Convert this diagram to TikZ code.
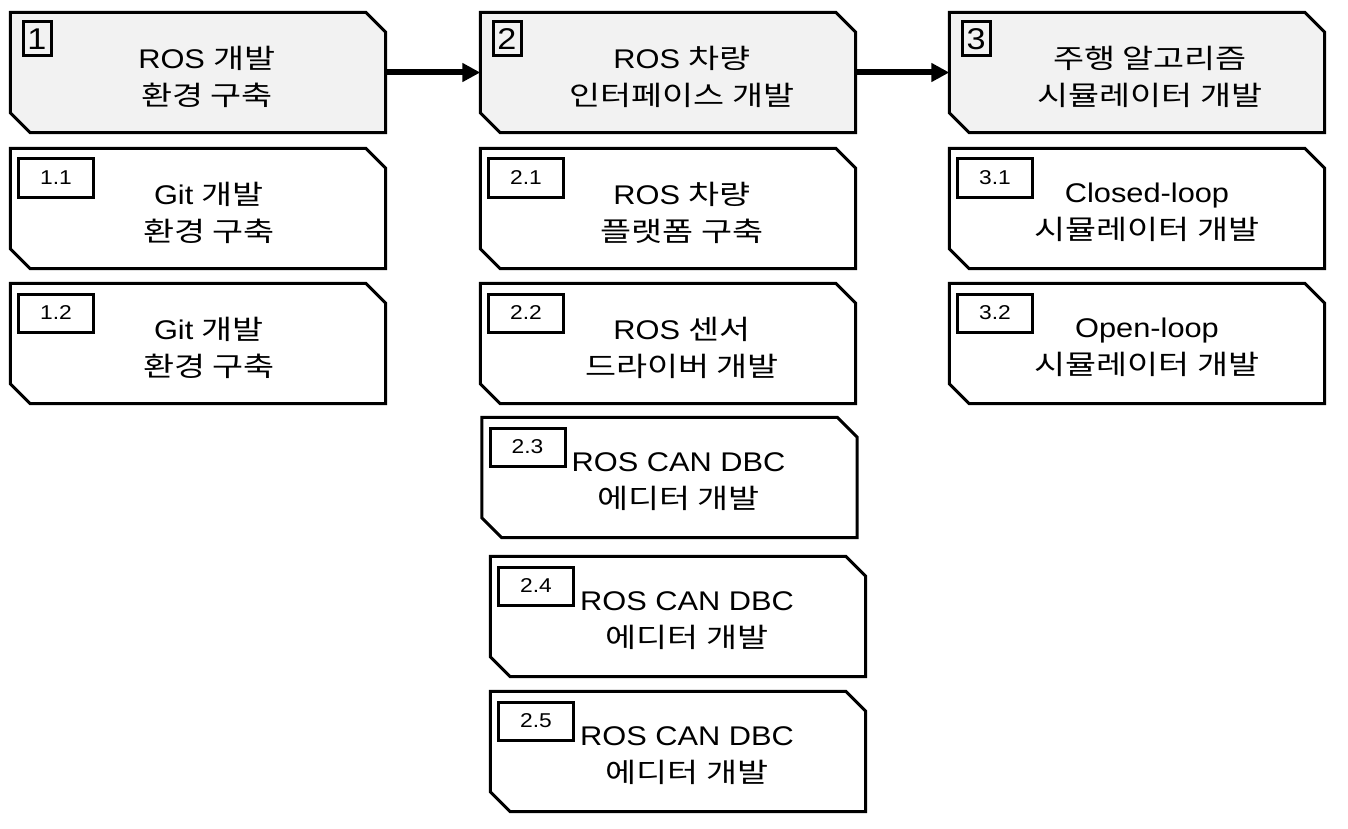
\documentclass[tikz,border=0pt]{standalone}
\usepackage{fontspec}
\setmainfont[FakeStretch=1.14]{Liberation Sans}
\newfontfamily\kr[Scale=1.0,FakeStretch=1.25]{Noto Sans CJK KR}
\usetikzlibrary{arrows.meta,calc}
\definecolor{boxgray}{HTML}{F2F2F2}
\newcommand\cutbox[2]{%
  \draw[boxline,fill=#2] (#1.north west) -- ([xshift=-20pt]#1.north east)
    -- ([yshift=-20pt]#1.north east) -- (#1.south east)
    -- ([xshift=20pt]#1.south west) -- ([yshift=20pt]#1.south west) -- cycle;}
\begin{document}
\begin{tikzpicture}[x=1pt,y=-1pt,
  box/.style={rectangle, minimum width=375pt, minimum height=120pt, inner sep=0pt},
  boxline/.style={draw=black, line width=3pt, line join=miter},
  bignum/.style={draw=black, line width=3pt, minimum width=28pt, minimum height=34pt,
    inner sep=0pt, font=\fontsize{30}{30}\selectfont},
  smallnum/.style={draw=black, line width=3pt, minimum width=75pt, minimum height=38pt,
    inner sep=0pt, font=\fontsize{20}{20}\selectfont},
  txt/.style={align=center, inner sep=0pt, font=\fontsize{27}{37}\selectfont},
  arr/.style={line width=6pt, -{Triangle[length=18pt,width=18pt]}}
]
\useasboundingbox (0,0) rectangle (1348,829);

% column 1
\node[box] (b1) at (198,72.5) {};
\node[box] (b11) at (198,208.5) {};
\node[box] (b12) at (198,343.5) {};
% column 2
\node[box] (b2) at (668,72.5) {};
\node[box] (b21) at (668,208.5) {};
\node[box] (b22) at (668,343.5) {};
\node[box] (b23) at (669.5,477.5) {};
\node[box] (b24) at (678,616.5) {};
\node[box] (b25) at (678,751.5) {};
% column 3
\node[box] (b3) at (1137,72.5) {};
\node[box] (b31) at (1137,208.5) {};
\node[box] (b32) at (1137,343.5) {};

\cutbox{b1}{boxgray}
\cutbox{b11}{white}
\cutbox{b12}{white}
\cutbox{b2}{boxgray}
\cutbox{b21}{white}
\cutbox{b22}{white}
\cutbox{b23}{white}
\cutbox{b24}{white}
\cutbox{b25}{white}
\cutbox{b3}{boxgray}
\cutbox{b31}{white}
\cutbox{b32}{white}

% number labels
\node[bignum] (n1) at ($(b1.center)+(-161,-33.5)$) {1};
\node[bignum] (n2) at ($(b2.center)+(-161,-33.5)$) {2};
\node[bignum] (n3) at ($(b3.center)+(-161,-33.5)$) {3};
\node[smallnum] (n11) at ($(b11.center)+(-142,-30.5)$) {1.1};
\node[smallnum] (n12) at ($(b12.center)+(-142,-30.5)$) {1.2};
\node[smallnum] (n21) at ($(b21.center)+(-142,-30.5)$) {2.1};
\node[smallnum] (n22) at ($(b22.center)+(-142,-30.5)$) {2.2};
\node[smallnum] (n23) at ($(b23.center)+(-142,-30.5)$) {2.3};
\node[smallnum] (n24) at ($(b24.center)+(-142,-30.5)$) {2.4};
\node[smallnum] (n25) at ($(b25.center)+(-142,-30.5)$) {2.5};
\node[smallnum] (n31) at ($(b31.center)+(-142,-30.5)$) {3.1};
\node[smallnum] (n32) at ($(b32.center)+(-142,-30.5)$) {3.2};

% texts
\node[txt] (t1) at ($(b1.center)+(9,4)$) {ROS {\kr 개발}\\{\kr 환경 구축}};
\node[txt] (t11) at ($(b11.center)+(11,4)$) {Git {\kr 개발}\\{\kr 환경 구축}};
\node[txt] (t12) at ($(b12.center)+(11,4)$) {Git {\kr 개발}\\{\kr 환경 구축}};
\node[txt] (t2) at ($(b2.center)+(14,4)$) {ROS {\kr 차량}\\{\kr 인터페이스 개발}};
\node[txt] (t21) at ($(b21.center)+(14,4)$) {ROS {\kr 차량}\\{\kr 플랫폼 구축}};
\node[txt] (t22) at ($(b22.center)+(14,4)$) {ROS {\kr 센서}\\{\kr 드라이버 개발}};
\node[txt] (t23) at ($(b23.center)+(9,4)$) {ROS CAN DBC\\{\kr 에디터 개발}};
\node[txt] (t24) at ($(b24.center)+(9,4)$) {ROS CAN DBC\\{\kr 에디터 개발}};
\node[txt] (t25) at ($(b25.center)+(9,4)$) {ROS CAN DBC\\{\kr 에디터 개발}};
\node[txt] (t3) at ($(b3.center)+(13,4)$) {{\kr 주행 알고리즘}\\{\kr 시뮬레이터 개발}};
\node[txt] (t31) at ($(b31.center)+(10,4)$) {Closed-loop\\{\kr 시뮬레이터 개발}};
\node[txt] (t32) at ($(b32.center)+(10,4)$) {Open-loop\\{\kr 시뮬레이터 개발}};

% arrows
\draw[arr] (b1.east) -- (b2.west);
\draw[arr] (b2.east) -- (b3.west);
\end{tikzpicture}
\end{document}
